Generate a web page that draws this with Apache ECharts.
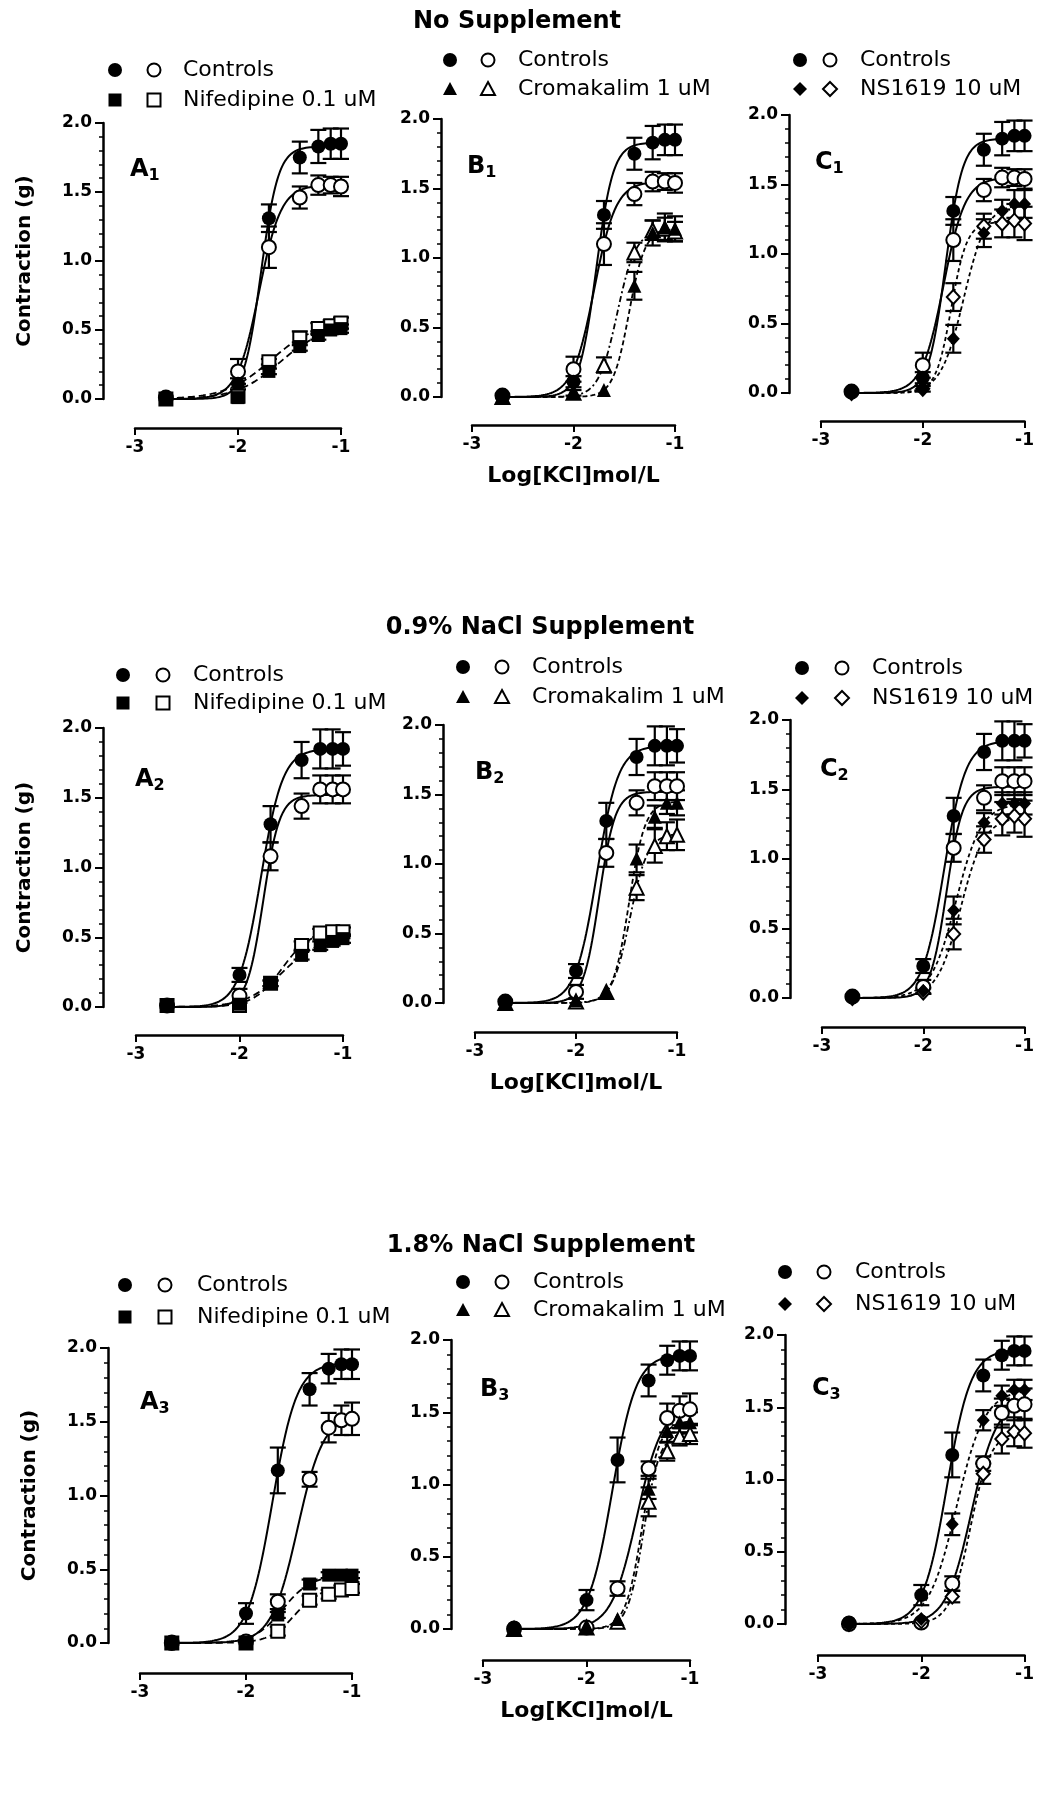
<!DOCTYPE html>
<html><head><meta charset="utf-8">
<script src="https://cdn.jsdelivr.net/npm/echarts@6/dist/echarts.min.js"></script>
<style>html,body{margin:0;padding:0;background:#fff}#chart{width:1037px;height:1807px}</style>
</head><body><div id="chart"></div>
<script>
// ---------- DATA ----------
const logKCl = [-2.7, -2.0, -1.7, -1.4, -1.22, -1.1, -1.0];
const yTickLabels = ['0.0', '0.5', '1.0', '1.5', '2.0'];
const xTickLabels = ['-3', '-2', '-1'];
const sectionTitles = ['No Supplement', '0.9% NaCl Supplement', '1.8% NaCl Supplement'];

// Row 1: no supplement
const ctl1F = [0.01, 0.11, 1.31, 1.75, 1.83, 1.85, 1.85];
const ctl1FErr = [0, 0.04, 0.10, 0.115, 0.12, 0.11, 0.11];
const ctl1O = [0.01, 0.20, 1.10, 1.46, 1.55, 1.55, 1.54];
const ctl1OErr = [0, 0.09, 0.15, 0.08, 0.07, 0.06, 0.07];
const nif1F = [0.0, 0.01, 0.20, 0.38, 0.46, 0.50, 0.51];
const nif1FErr = [0, 0, 0.02, 0.03, 0.03, 0.03, 0.03];
const nif1O = [0.0, 0.02, 0.27, 0.44, 0.51, 0.53, 0.55];
const nif1OErr = [0, 0, 0.02, 0.05, 0.04, 0.04, 0.04];
const cro1F = [0.0, 0.03, 0.05, 0.80, 1.18, 1.22, 1.21];
const cro1FErr = [0, 0.02, 0, 0.10, 0.09, 0.10, 0.09];
const cro1O = [0.0, 0.03, 0.23, 1.04, 1.20, 1.21, 1.19];
const cro1OErr = [0, 0, 0.055, 0.07, 0.07, 0.08, 0.07];
const ns1F = [0.0, 0.03, 0.39, 1.15, 1.31, 1.36, 1.36];
const ns1FErr = [0, 0.02, 0.10, 0.10, 0.08, 0.10, 0.10];
const ns1O = [0.0, 0.03, 0.69, 1.20, 1.22, 1.24, 1.22];
const ns1OErr = [0, 0, 0.10, 0.09, 0.10, 0.12, 0.12];

// Row 2: 0.9% NaCl
const ctl2F = [0.01, 0.23, 1.31, 1.77, 1.85, 1.85, 1.85];
const ctl2FErr = [0, 0.05, 0.13, 0.13, 0.14, 0.14, 0.12];
const ctl2O = [0.01, 0.08, 1.08, 1.44, 1.56, 1.56, 1.56];
const ctl2OErr = [0, 0.05, 0.10, 0.09, 0.10, 0.10, 0.10];
const nif2F = [0.01, 0.02, 0.17, 0.37, 0.44, 0.47, 0.49];
const nif2FErr = [0, 0, 0.02, 0.03, 0.03, 0.03, 0.03];
const nif2O = [0.01, 0.01, 0.17, 0.44, 0.53, 0.54, 0.54];
const nif2OErr = [0, 0, 0.02, 0.03, 0.03, 0.03, 0.03];
const cro2F = [0.0, 0.02, 0.08, 1.04, 1.34, 1.44, 1.44];
const cro2FErr = [0, 0, 0.01, 0.10, 0.08, 0.08, 0.09];
const cro2O = [0.0, 0.01, 0.08, 0.83, 1.13, 1.20, 1.21];
const cro2OErr = [0, 0, 0, 0.09, 0.12, 0.10, 0.11];
const ns2F = [0.0, 0.05, 0.63, 1.26, 1.40, 1.40, 1.40];
const ns2FErr = [0, 0.02, 0.10, 0.07, 0.08, 0.08, 0.08];
const ns2O = [0.0, 0.04, 0.46, 1.14, 1.29, 1.31, 1.29];
const ns2OErr = [0, 0, 0.11, 0.095, 0.12, 0.12, 0.13];

// Row 3: 1.8% NaCl
const ctl3F = [0.01, 0.20, 1.17, 1.72, 1.86, 1.89, 1.89];
const ctl3FErr = [0, 0.07, 0.155, 0.11, 0.10, 0.10, 0.10];
const ctl3O = [0.0, 0.01, 0.28, 1.11, 1.46, 1.51, 1.52];
const ctl3OErr = [0, 0, 0.05, 0.05, 0.10, 0.10, 0.11];
const nif3F = [0.0, 0.0, 0.19, 0.40, 0.46, 0.46, 0.46];
const nif3FErr = [0, 0, 0.02, 0.03, 0.02, 0.02, 0.02];
const nif3O = [0.0, 0.0, 0.08, 0.29, 0.33, 0.36, 0.37];
const nif3OErr = [0, 0, 0.03, 0.03, 0.03, 0.03, 0.03];
const cro3F = [0.0, 0.01, 0.07, 0.97, 1.37, 1.43, 1.43];
const cro3FErr = [0, 0, 0, 0.07, 0.08, 0.07, 0.07];
const cro3O = [0.0, 0.01, 0.05, 0.88, 1.23, 1.33, 1.35];
const cro3OErr = [0, 0, 0, 0.10, 0.065, 0.06, 0.07];
const ns3F = [0.0, 0.035, 0.69, 1.41, 1.58, 1.62, 1.62];
const ns3FErr = [0, 0.01, 0.075, 0.07, 0.07, 0.07, 0.07];
const ns3O = [0.0, 0.02, 0.19, 1.04, 1.28, 1.33, 1.32];
const ns3OErr = [0, 0, 0.04, 0.07, 0.10, 0.10, 0.10];

// Fitted sigmoid curves: [top, logEC50, Hill slope]
const fitCtl1F = [1.83, -1.777, 5.18], fitCtl1O = [1.55, -1.796, 4.06];
const fitNif1F = [0.53, -1.595, 2.07], fitNif1O = [0.56, -1.684, 1.98];
const fitCro1F = [1.21, -1.453, 5.52], fitCro1O = [1.20, -1.570, 4.79];
const fitNs1F = [1.36, -1.598, 3.87], fitNs1O = [1.23, -1.719, 5.69];
const fitCtl2F = [1.85, -1.794, 4.11], fitCtl2O = [1.52, -1.771, 5.48];
const fitNif2F = [0.50, -1.583, 2.47], fitNif2O = [0.55, -1.590, 3.17];
const fitCro2F = [1.45, -1.474, 5.46], fitCro2O = [1.22, -1.466, 4.94];
const fitNs2F = [1.40, -1.675, 3.47], fitNs2O = [1.30, -1.630, 3.72];
const fitCtl3F = [1.90, -1.752, 3.75], fitCtl3O = [1.55, -1.514, 3.53];
const fitNif3F = [0.46, -1.653, 3.26], fitNif3O = [0.38, -1.540, 3.60];
const fitCro3F = [1.44, -1.459, 5.36], fitCro3O = [1.36, -1.447, 5.60];
const fitNs3F = [1.62, -1.659, 3.19], fitNs3O = [1.33, -1.525, 4.44];

const treatments = {
  nif: {name: 'Nifedipine 0.1 uM', symbol: 'rect', dashF: [7, 4], dashO: [7, 4]},
  cro: {name: 'Cromakalim 1 uM', symbol: 'triangle', dashF: [5, 3], dashO: [6, 3, 2, 3]},
  ns:  {name: 'NS1619 10 uM', symbol: 'diamond', dashF: [4, 3], dashO: [4, 3]}
};

const panels = [
  {letter: 'A', sub: '1', treat: 'nif', ctl: [ctl1F, ctl1FErr, ctl1O, ctl1OErr], trt: [nif1F, nif1FErr, nif1O, nif1OErr], fits: [fitCtl1F, fitCtl1O, fitNif1F, fitNif1O]},
  {letter: 'B', sub: '1', treat: 'cro', ctl: [ctl1F, ctl1FErr, ctl1O, ctl1OErr], trt: [cro1F, cro1FErr, cro1O, cro1OErr], fits: [fitCtl1F, fitCtl1O, fitCro1F, fitCro1O]},
  {letter: 'C', sub: '1', treat: 'ns',  ctl: [ctl1F, ctl1FErr, ctl1O, ctl1OErr], trt: [ns1F, ns1FErr, ns1O, ns1OErr], fits: [fitCtl1F, fitCtl1O, fitNs1F, fitNs1O]},
  {letter: 'A', sub: '2', treat: 'nif', ctl: [ctl2F, ctl2FErr, ctl2O, ctl2OErr], trt: [nif2F, nif2FErr, nif2O, nif2OErr], fits: [fitCtl2F, fitCtl2O, fitNif2F, fitNif2O]},
  {letter: 'B', sub: '2', treat: 'cro', ctl: [ctl2F, ctl2FErr, ctl2O, ctl2OErr], trt: [cro2F, cro2FErr, cro2O, cro2OErr], fits: [fitCtl2F, fitCtl2O, fitCro2F, fitCro2O]},
  {letter: 'C', sub: '2', treat: 'ns',  ctl: [ctl2F, ctl2FErr, ctl2O, ctl2OErr], trt: [ns2F, ns2FErr, ns2O, ns2OErr], fits: [fitCtl2F, fitCtl2O, fitNs2F, fitNs2O]},
  {letter: 'A', sub: '3', treat: 'nif', ctl: [ctl3F, ctl3FErr, ctl3O, ctl3OErr], trt: [nif3F, nif3FErr, nif3O, nif3OErr], fits: [fitCtl3F, fitCtl3O, fitNif3F, fitNif3O]},
  {letter: 'B', sub: '3', treat: 'cro', ctl: [ctl3F, ctl3FErr, ctl3O, ctl3OErr], trt: [cro3F, cro3FErr, cro3O, cro3OErr], fits: [fitCtl3F, fitCtl3O, fitCro3F, fitCro3O]},
  {letter: 'C', sub: '3', treat: 'ns',  ctl: [ctl3F, ctl3FErr, ctl3O, ctl3OErr], trt: [ns3F, ns3FErr, ns3O, ns3OErr], fits: [fitCtl3F, fitCtl3O, fitNs3F, fitNs3O]}
];

// ---------- LAYOUT (pixels) ----------
const layout = [
  {left: 135, width: 206, top: 123, height: 276, yOff: 32, xOff: 29, lt: [130, 170], lg: [115, 154, 183, 70, 100]},
  {left: 472, width: 203, top: 119, height: 278, yOff: 31, xOff: 28, lt: [467, 167], lg: [450, 488, 518, 60, 89]},
  {left: 821, width: 204, top: 115, height: 278, yOff: 32, xOff: 28, lt: [815, 163], lg: [800, 830, 860, 60, 89]},
  {left: 136, width: 207, top: 728, height: 279, yOff: 33, xOff: 28, lt: [135, 780], lg: [123, 163, 193, 675, 703]},
  {left: 475, width: 202, top: 725, height: 278, yOff: 32, xOff: 29, lt: [475, 773], lg: [463, 502, 532, 667, 697]},
  {left: 822, width: 203, top: 720, height: 278, yOff: 32, xOff: 29, lt: [820, 770], lg: [802, 842, 872, 668, 698]},
  {left: 140, width: 212, top: 1348, height: 295, yOff: 32, xOff: 30, lt: [140, 1403], lg: [125, 165, 197, 1285, 1317]},
  {left: 483, width: 207, top: 1340, height: 289, yOff: 32, xOff: 31, lt: [480, 1390], lg: [463, 502, 533, 1282, 1310]},
  {left: 818, width: 208, top: 1335, height: 289, yOff: 33, xOff: 31, lt: [812, 1389], lg: [785, 824, 855, 1272, 1304]}
];
const sectionPos = [[517, 22], [540, 628], [541, 1246]];
const FONT = 'DejaVu Sans';

// ---------- BUILD ----------
function curveData(p) {
  const out = [];
  const x0 = logKCl[0], x1 = logKCl[logKCl.length - 1];
  for (let x = x0; x <= x1 + 1e-9; x += 0.01) {
    out.push([x, p[0] / (1 + Math.pow(10, (p[1] - x) * p[2]))]);
  }
  return out;
}
function errSeries(i, ys, es) {
  return {
    type: 'custom', xAxisIndex: i, yAxisIndex: i, z: 2, silent: true, clip: false,
    data: ys.map((v, k) => [logKCl[k], v, es[k]]),
    encode: {x: 0, y: 1},
    renderItem: function (params, api) {
      const x = api.value(0), y = api.value(1), e = api.value(2);
      if (e < 0.015) return null;
      const t = api.coord([x, y + e]), b = api.coord([x, y - e]);
      const hw = 8, st = {stroke: '#000', lineWidth: 2.2};
      return {type: 'group', children: [
        {type: 'line', shape: {x1: t[0], y1: t[1], x2: b[0], y2: b[1]}, style: st},
        {type: 'line', shape: {x1: t[0] - hw, y1: t[1], x2: t[0] + hw, y2: t[1]}, style: st},
        {type: 'line', shape: {x1: b[0] - hw, y1: b[1], x2: b[0] + hw, y2: b[1]}, style: st}
      ]};
    }
  };
}
function markerSeries(i, ys, symbol, filled, z) {
  let size = 14;
  if (symbol === 'rect') size = 13;
  if (symbol === 'triangle') size = 14;
  if (symbol === 'diamond') size = [13, 14];
  return {
    type: 'scatter', xAxisIndex: i, yAxisIndex: i, z: z, silent: true, clip: false,
    symbol: symbol, symbolSize: size,
    itemStyle: filled ? {color: '#000', opacity: 1} : {color: '#fff', borderColor: '#000', borderWidth: 2, opacity: 1},
    data: ys.map((v, k) => [logKCl[k], v])
  };
}
function lineSeries(i, p, dash, w) {
  return {
    type: 'line', xAxisIndex: i, yAxisIndex: i, z: 3, silent: true,
    showSymbol: false, symbol: 'none', smooth: false,
    lineStyle: {color: '#000', width: w, type: dash, opacity: 1},
    data: curveData(p)
  };
}

const grids = [], xAxes = [], yAxes = [], series = [], titles = [], graphics = [];

panels.forEach((P, i) => {
  const L = layout[i];
  const T = treatments[P.treat];
  grids.push({left: L.left, top: L.top, width: L.width, height: L.height, containLabel: false});
  xAxes.push({
    gridIndex: i, type: 'value', min: -3, max: -1, interval: 1, offset: L.xOff,
    axisLine: {show: true, onZero: false, lineStyle: {color: '#000', width: 2.5}},
    axisTick: {show: true, length: 7, lineStyle: {color: '#000', width: 2}},
    axisLabel: {color: '#000', fontFamily: FONT, fontWeight: 'bold', fontSize: 17, margin: 11,
      formatter: v => xTickLabels[Math.round(v + 3)]},
    splitLine: {show: false},
    name: P.letter === 'B' ? 'Log[KCl]mol/L' : '',
    nameLocation: 'middle', nameGap: 40,
    nameTextStyle: {color: '#000', fontFamily: FONT, fontWeight: 'bold', fontSize: 22}
  });
  yAxes.push({
    gridIndex: i, type: 'value', min: 0, max: 2, interval: 0.5, offset: L.yOff,
    axisLine: {show: true, onZero: false, lineStyle: {color: '#000', width: 2.5}},
    axisTick: {show: true, length: 8, lineStyle: {color: '#000', width: 2}},
    minorTick: {show: true, splitNumber: 5, length: 4, lineStyle: {color: '#000', width: 1.5}},
    axisLabel: {color: '#000', fontFamily: FONT, fontWeight: 'bold', fontSize: 17, margin: 11,
      formatter: v => yTickLabels[Math.round(v * 2)]},
    splitLine: {show: false}, minorSplitLine: {show: false},
    name: P.letter === 'A' ? 'Contraction (g)' : '',
    nameLocation: 'middle', nameGap: 68, nameRotate: 90,
    nameTextStyle: {color: '#000', fontFamily: FONT, fontWeight: 'bold', fontSize: 20}
  });
  // error bars
  series.push(errSeries(i, P.ctl[0], P.ctl[1]));
  series.push(errSeries(i, P.ctl[2], P.ctl[3]));
  series.push(errSeries(i, P.trt[0], P.trt[1]));
  series.push(errSeries(i, P.trt[2], P.trt[3]));
  // fitted curves
  series.push(lineSeries(i, P.fits[0], 'solid', 2));
  series.push(lineSeries(i, P.fits[1], 'solid', 2));
  series.push(lineSeries(i, P.fits[2], T.dashF, 1.8));
  series.push(lineSeries(i, P.fits[3], T.dashO, 1.8));
  // markers
  series.push(markerSeries(i, P.ctl[2], 'circle', false, 4));
  series.push(markerSeries(i, P.ctl[0], 'circle', true, 5));
  series.push(markerSeries(i, P.trt[2], T.symbol, false, 6));
  series.push(markerSeries(i, P.trt[0], T.symbol, true, 7));

  // panel letter
  titles.push({
    text: '{m|' + P.letter + '}{s|' + P.sub + '}', left: L.lt[0], top: L.lt[1] - 14, padding: 0,
    textStyle: {rich: {
      m: {fontFamily: FONT, fontWeight: 'bold', fontSize: 24, lineHeight: 28, color: '#000'},
      s: {fontFamily: FONT, fontWeight: 'bold', fontSize: 16, lineHeight: 12, verticalAlign: 'bottom', color: '#000'}
    }}
  });

  // legend (two rows)
  const [fx, ox, tx, y1, y2] = L.lg;
  const fillS = {fill: '#000'}, openS = {fill: '#fff', stroke: '#000', lineWidth: 2};
  graphics.push({type: 'circle', shape: {cx: fx, cy: y1, r: 7}, style: fillS});
  graphics.push({type: 'circle', shape: {cx: ox, cy: y1, r: 6.5}, style: openS});
  function sym(cx, cy, st) {
    if (T.symbol === 'rect') return {type: 'rect', shape: {x: cx - 6.5, y: cy - 6.5, width: 13, height: 13}, style: st};
    if (T.symbol === 'triangle') return {type: 'polygon', shape: {points: [[cx, cy - 7], [cx + 7, cy + 6], [cx - 7, cy + 6]]}, style: st};
    return {type: 'polygon', shape: {points: [[cx, cy - 7], [cx + 7, cy], [cx, cy + 7], [cx - 7, cy]]}, style: st};
  }
  graphics.push(sym(fx, y2, fillS));
  graphics.push(sym(ox, y2, openS));
  const ts = (t, y) => ({type: 'text', x: tx, y: y, style: {text: t, font: '22px "' + FONT + '"', fill: '#000',
    textAlign: 'left', align: 'left', textVerticalAlign: 'middle', verticalAlign: 'middle'}});
  graphics.push(ts('Controls', y1));
  graphics.push(ts(T.name, y2));
});

sectionTitles.forEach((t, r) => {
  graphics.push({type: 'text', x: sectionPos[r][0], y: sectionPos[r][1],
    style: {text: t, font: 'bold 24px "' + FONT + '"', fill: '#000',
      textAlign: 'center', align: 'center', textVerticalAlign: 'middle', verticalAlign: 'middle'}});
});

const chart = echarts.init(document.getElementById('chart'), null, {renderer: 'canvas', width: 1037, height: 1807});
chart.setOption({
  backgroundColor: '#fff',
  animation: false,
  textStyle: {fontFamily: FONT},
  title: titles,
  grid: grids,
  xAxis: xAxes,
  yAxis: yAxes,
  series: series,
  graphic: {elements: graphics}
});
</script>
</body></html>
